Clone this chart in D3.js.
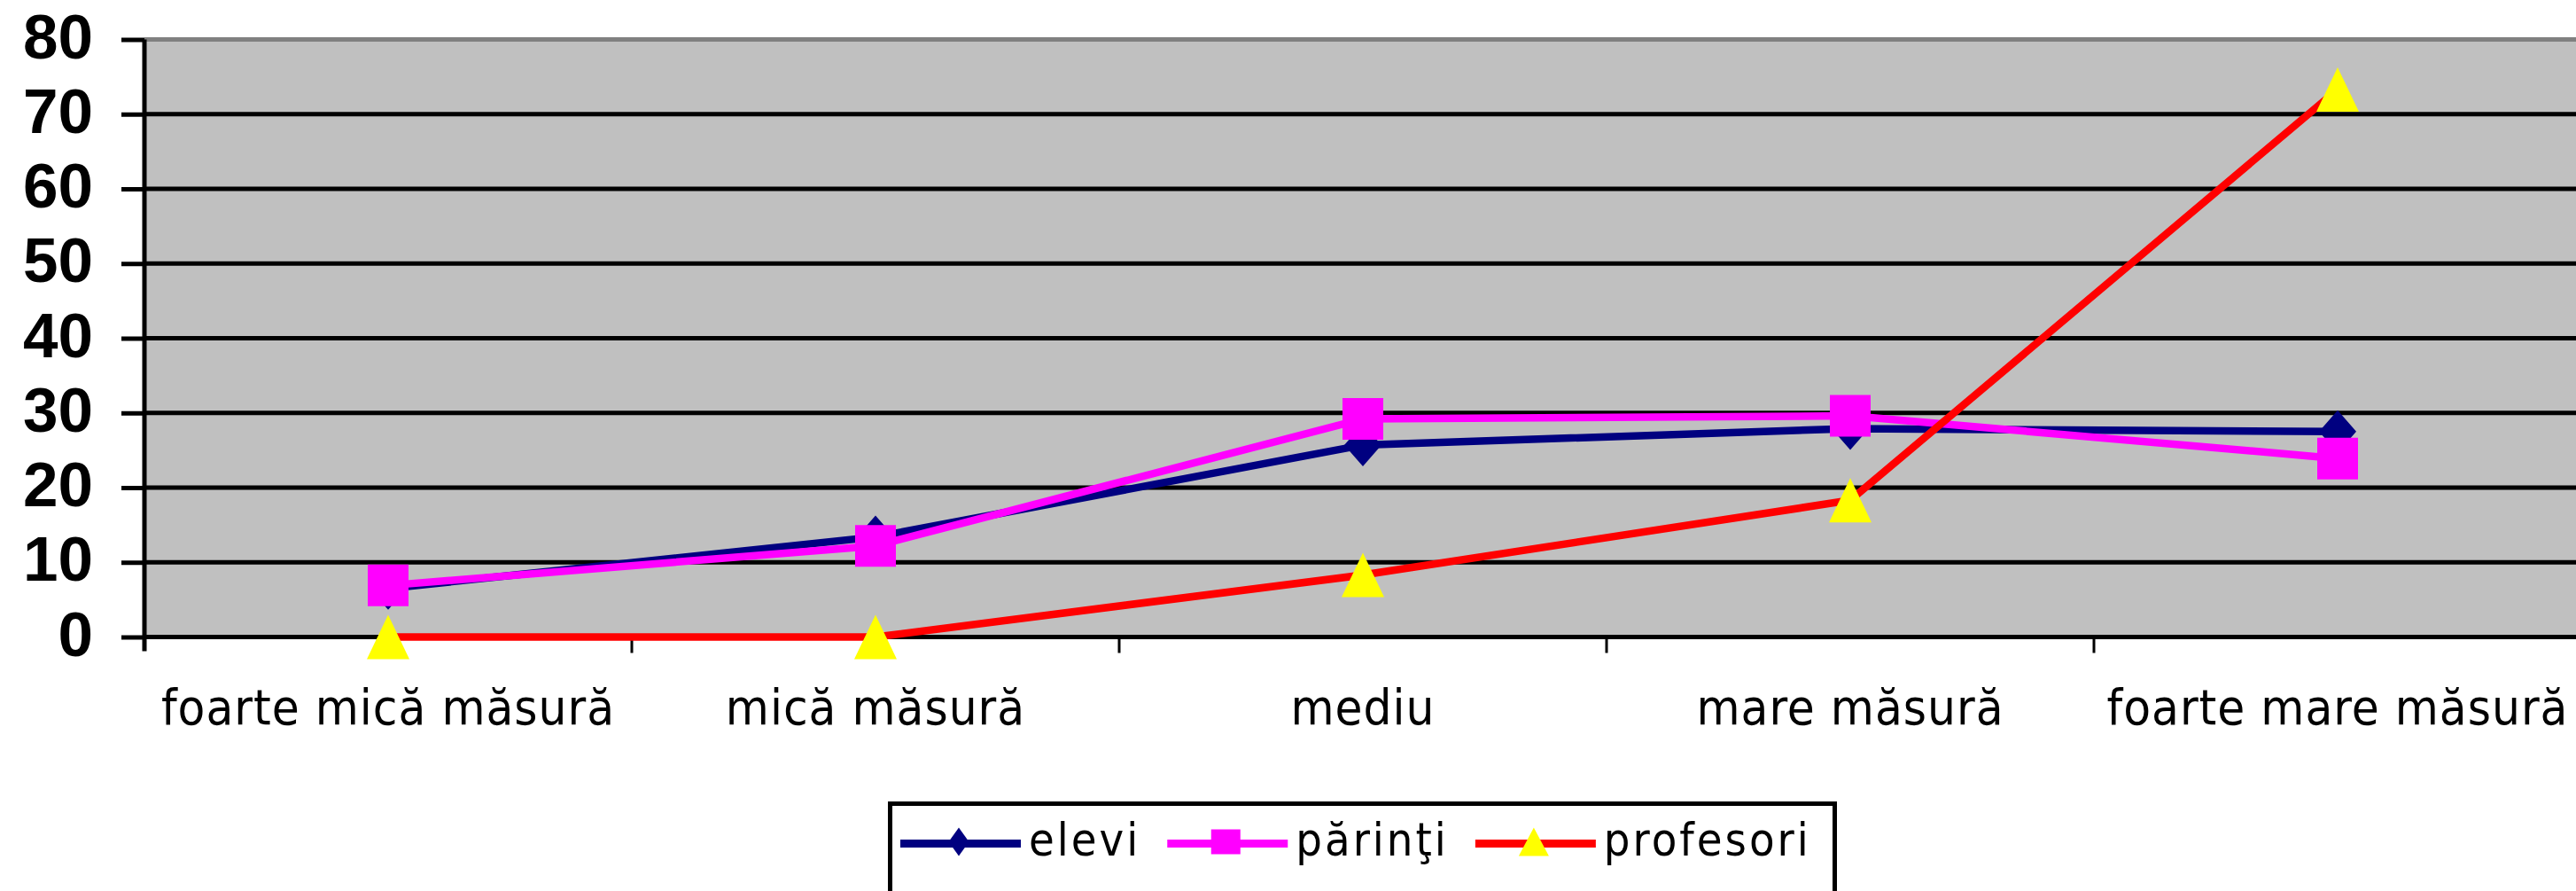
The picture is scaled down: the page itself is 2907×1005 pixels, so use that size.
<!DOCTYPE HTML>
<html lang="ro">
<head>
    <meta http-equiv="Content-Type" content="text/html; charset=utf-8">
    <title>elevi / părinţi / profesori</title>
    <script src="https://cdn.jsdelivr.net/npm/d3@7"></script>
    <style type="text/css">
        html,body{margin:0;padding:0;background:#fff;overflow:hidden}
        svg{display:block}
        .ytick text{font-family:"Liberation Sans",Arial,sans-serif;font-weight:bold;font-size:71px}
        .xlabel{font-family:"DejaVu Sans Condensed","DejaVu Sans",sans-serif;font-size:56px;letter-spacing:1px}
        .legend text{font-family:"DejaVu Sans Condensed","DejaVu Sans",sans-serif;font-size:52px;letter-spacing:3px}
    </style>
</head>
<body>
<div id="chart"></div>
<script type="text/javascript">
// data (percent)
var categories=["foarte mică măsură","mică măsură","mediu","mare măsură","foarte mare măsură"];
var elevi=[6.5,13.4,25.7,27.9,27.5];
var parinti=[6.9,12.2,29.2,29.6,23.9];
var profesori=[0,0,8.3,18.3,73.3];
var seriesNames=["elevi","părinţi","profesori"];
var yTicks=[0,10,20,30,40,50,60,70,80];

var W=2907,H=1005;
var plot={left:163,right:2913,top:44.5,bottom:718.5};

var series=[
    {name:seriesNames[0],values:elevi,color:"#000080",marker:"diamond",mfill:"#000080"},
    {name:seriesNames[1],values:parinti,color:"#ff00ff",marker:"square",mfill:"#ff00ff"},
    {name:seriesNames[2],values:profesori,color:"#ff0000",marker:"triangle",mfill:"#ffff00"}
];

var xScale=d3.scaleBand().domain(categories).range([plot.left,plot.right]);
var yScale=d3.scaleLinear().domain([0,80]).range([plot.bottom,plot.top]);
function cx(c){return xScale(c)+xScale.bandwidth()/2;}

// marker outline, w/h = full width/height
function markerPath(type,w,h) {
    var p=d3.path();
    if(type=="diamond") {
        p.moveTo(0,-h/2);p.lineTo(w/2,0);p.lineTo(0,h/2);p.lineTo(-w/2,0);
    } else if(type=="square") {
        p.rect(-w/2,-h/2,w,h);
    } else {
        p.moveTo(0,-h/2);p.lineTo(w/2,h/2);p.lineTo(-w/2,h/2);
    }
    p.closePath();
    return p.toString();
}
var plotSize={diamond:[42,48],square:[46,47],triangle:[48,50]};
var legendSize={diamond:[23,32],square:[33,28],triangle:[34,32]};

var svg=d3.select("#chart").append("svg")
    .attr("width",W)
    .attr("height",H);

// plot area
svg.append("rect")
    .attr("x",plot.left).attr("y",plot.top)
    .attr("width",plot.right-plot.left).attr("height",plot.bottom-plot.top)
    .attr("fill","#c0c0c0");

// gridlines
svg.append("g").selectAll("line")
    .data(yTicks.filter(function(d){return d>0;}))
    .enter().append("line")
    .attr("x1",plot.left).attr("x2",plot.right)
    .attr("y1",function(d){return yScale(d)}).attr("y2",function(d){return yScale(d)})
    .attr("stroke",function(d){return d==80?"#808080":"#000"})
    .attr("stroke-width",5);

// y axis
var yAxis=d3.axisLeft(yScale).tickValues(yTicks).tickSize(26).tickPadding(32).tickSizeOuter(0);
var gy=svg.append("g")
    .attr("class","ytick")
    .attr("transform","translate("+plot.left+",0)")
    .call(yAxis);
gy.select(".domain").remove();
gy.selectAll(".tick line").attr("stroke","#000").attr("stroke-width",5);
gy.selectAll(".tick text").attr("fill","#000").attr("dy","0.29em");
svg.append("line")
    .attr("x1",plot.left).attr("x2",plot.left)
    .attr("y1",plot.top).attr("y2",plot.bottom+16)
    .attr("stroke","#000").attr("stroke-width",5);

// x axis: line, ticks between categories, labels at centres
svg.append("line")
    .attr("x1",plot.left).attr("x2",plot.right)
    .attr("y1",plot.bottom).attr("y2",plot.bottom)
    .attr("stroke","#000").attr("stroke-width",5);
svg.append("g").selectAll("line")
    .data(categories.slice(1))
    .enter().append("line")
    .attr("x1",function(d){return xScale(d)}).attr("x2",function(d){return xScale(d)})
    .attr("y1",plot.bottom).attr("y2",plot.bottom+18)
    .attr("stroke","#000").attr("stroke-width",3);
svg.append("g").selectAll("text")
    .data(categories)
    .enter().append("text")
    .attr("class","xlabel")
    .attr("x",function(d){return cx(d)})
    .attr("y",817)
    .attr("text-anchor","middle")
    .attr("fill","#000")
    .text(function(d){return d});

// series
var line=d3.line()
    .x(function(d,i){return cx(categories[i])})
    .y(function(d){return yScale(d)});

series.forEach(function(s) {
    var g=svg.append("g");
    g.append("path")
        .datum(s.values)
        .attr("fill","none")
        .attr("stroke",s.color)
        .attr("stroke-width",8.5)
        .attr("d",line);
    g.selectAll("path.marker")
        .data(s.values)
        .enter().append("path")
        .attr("class","marker")
        .attr("transform",function(d,i){return "translate("+cx(categories[i])+","+yScale(d)+")"})
        .attr("d",markerPath(s.marker,plotSize[s.marker][0],plotSize[s.marker][1]))
        .attr("fill",s.mfill);
});

// legend
var legend=svg.append("g").attr("class","legend");
legend.append("rect")
    .attr("x",1004.5).attr("y",906.5)
    .attr("width",1066).attr("height",200)
    .attr("fill","#fff").attr("stroke","#000").attr("stroke-width",5);
var lx=1016,ly=951.5;
series.forEach(function(s) {
    legend.append("line")
        .attr("x1",lx).attr("x2",lx+136)
        .attr("y1",ly).attr("y2",ly)
        .attr("stroke",s.color).attr("stroke-width",9);
    legend.append("path")
        .attr("transform","translate("+(lx+66)+","+(ly-2)+")")
        .attr("d",markerPath(s.marker,legendSize[s.marker][0],legendSize[s.marker][1]))
        .attr("fill",s.mfill);
    var t=legend.append("text")
        .attr("x",lx+145).attr("y",965)
        .attr("fill","#000")
        .text(s.name);
    lx=lx+145+t.node().getComputedTextLength()+30;
});
</script>
</body>
</html>
